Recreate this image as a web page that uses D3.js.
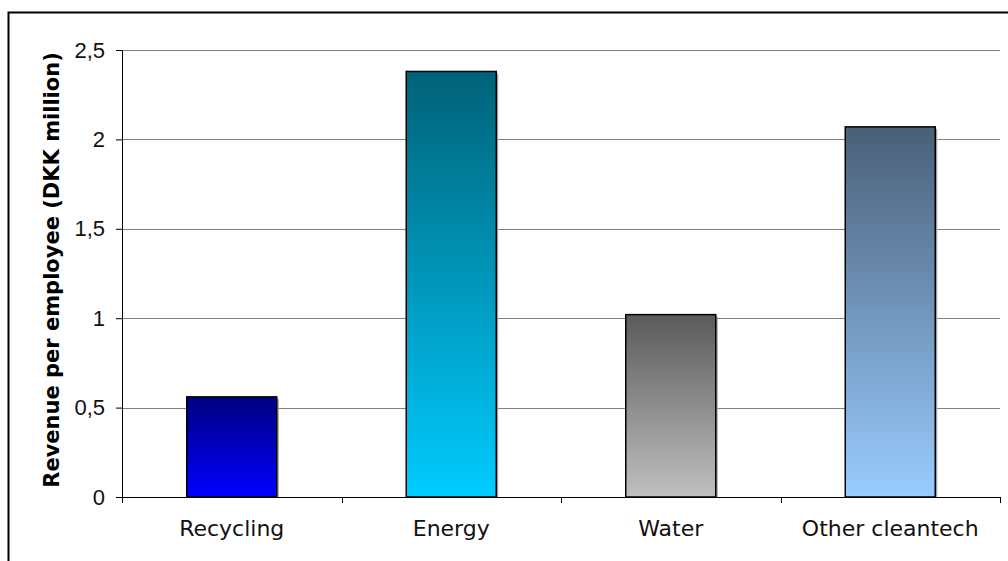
<!DOCTYPE html>
<html>
<head>
<meta charset="utf-8">
<script src="https://cdn.jsdelivr.net/npm/d3@7"></script>
<style>
  body { margin: 0; background: #fff; }
  svg { display: block; font-family: "DejaVu Sans", Verdana, sans-serif; }
</style>
</head>
<body>
<script>
// data
var categories = ["Recycling", "Energy", "Water", "Other cleantech"];
var values = [0.56, 2.38, 1.02, 2.07];
var tickValues = [0, 0.5, 1, 1.5, 2, 2.5];
var tickLabels = ["0", "0,5", "1", "1,5", "2", "2,5"];
var gradTop = ["#000080", "#006278", "#5a5a5a", "#4a5f78"];
var gradBottom = ["#0000ff", "#00ccff", "#c0c0c0", "#99ccff"];

var W = 1008, H = 561;
var margin = {top: 50, right: 8, bottom: 64, left: 122},
    width = W - margin.left - margin.right,
    height = H - margin.top - margin.bottom;

var svg = d3.select("body").append("svg")
    .attr("width", W)
    .attr("height", H);

// outer frame (runs off the right and bottom edge)
svg.append("path")
    .attr("d", "M8.5," + (H + 5) + "V12.5H" + (W + 5))
    .attr("fill", "none")
    .attr("stroke", "#000")
    .attr("stroke-width", 2);

var defs = svg.append("defs");
categories.forEach(function(c, i) {
    var g = defs.append("linearGradient")
        .attr("id", "grad" + i)
        .attr("x1", 0).attr("y1", 0).attr("x2", 0).attr("y2", 1);
    g.append("stop").attr("offset", "0%").attr("stop-color", gradTop[i]);
    g.append("stop").attr("offset", "100%").attr("stop-color", gradBottom[i]);
});

var g = svg.append("g")
    .attr("transform", "translate(" + margin.left + "," + margin.top + ")");

var x = d3.scaleBand().domain(categories).range([0, width]).paddingInner(0.59).paddingOuter(0.295);
var y = d3.scaleLinear().domain([0, 2.5]).range([height, 0]);

// gridlines
g.append("g")
    .selectAll("line")
    .data(tickValues.filter(function(d) { return d > 0; }))
    .enter().append("line")
    .attr("x1", 0).attr("x2", width)
    .attr("y1", function(d) { return Math.round(y(d)) + 0.5; })
    .attr("y2", function(d) { return Math.round(y(d)) + 0.5; })
    .attr("stroke", "#808080")
    .attr("stroke-width", 1);

// bar shadows
g.append("g")
    .selectAll("rect")
    .data(values)
    .enter().append("rect")
    .attr("x", function(d, i) { return x(categories[i]) + 2; })
    .attr("y", function(d) { return y(d) + 2; })
    .attr("width", x.bandwidth())
    .attr("height", function(d) { return height - y(d) - 2; })
    .attr("fill", "#a0a0a0");

// bars
g.append("g")
    .selectAll("rect")
    .data(values)
    .enter().append("rect")
    .attr("x", function(d, i) { return x(categories[i]); })
    .attr("y", function(d) { return y(d); })
    .attr("width", x.bandwidth())
    .attr("height", function(d) { return height - y(d); })
    .attr("fill", function(d, i) { return "url(#grad" + i + ")"; })
    .attr("stroke", "#000")
    .attr("stroke-width", 1.5);

// y axis
var yAxis = g.append("g")
    .call(d3.axisLeft(y)
        .tickValues(tickValues)
        .tickFormat(function(d, i) { return tickLabels[i]; })
        .tickSize(6)
        .tickPadding(11));
yAxis.selectAll("text").style("font-size", "22px").attr("fill", "#111");
yAxis.selectAll("line, path").attr("stroke", "#000");
yAxis.select(".domain").attr("d", "M-6,0.5H0.5V" + height + ".5H-6");

// x axis with ticks on band edges
var xAxis = g.append("g")
    .attr("transform", "translate(0," + height + ")");
xAxis.append("line")
    .attr("x1", 0).attr("x2", width)
    .attr("y1", 0.5).attr("y2", 0.5)
    .attr("stroke", "#000");
var edges = categories.map(function(c) { return x(c) - x.step() * x.paddingInner() / 2; });
edges[0] = 0;
edges.push(width);
xAxis.selectAll(".edge")
    .data(edges)
    .enter().append("line")
    .attr("class", "edge")
    .attr("x1", function(d) { return Math.round(d) + 0.5; })
    .attr("x2", function(d) { return Math.round(d) + 0.5; })
    .attr("y1", 0).attr("y2", 6)
    .attr("stroke", "#000");
xAxis.selectAll(".lbl")
    .data(categories)
    .enter().append("text")
    .attr("class", "lbl")
    .attr("x", function(d) { return x(d) + x.bandwidth() / 2; })
    .attr("y", 39)
    .attr("text-anchor", "middle")
    .attr("fill", "#111")
    .style("font-size", "22px")
    .text(function(d) { return d; });

// y axis title
svg.append("text")
    .attr("transform", "translate(52,270) rotate(-90)")
    .attr("text-anchor", "middle")
    .attr("dy", "0.35em")
    .style("font-size", "21px")
    .style("font-weight", "bold")
    .text("Revenue per employee (DKK million)");
</script>
</body>
</html>
